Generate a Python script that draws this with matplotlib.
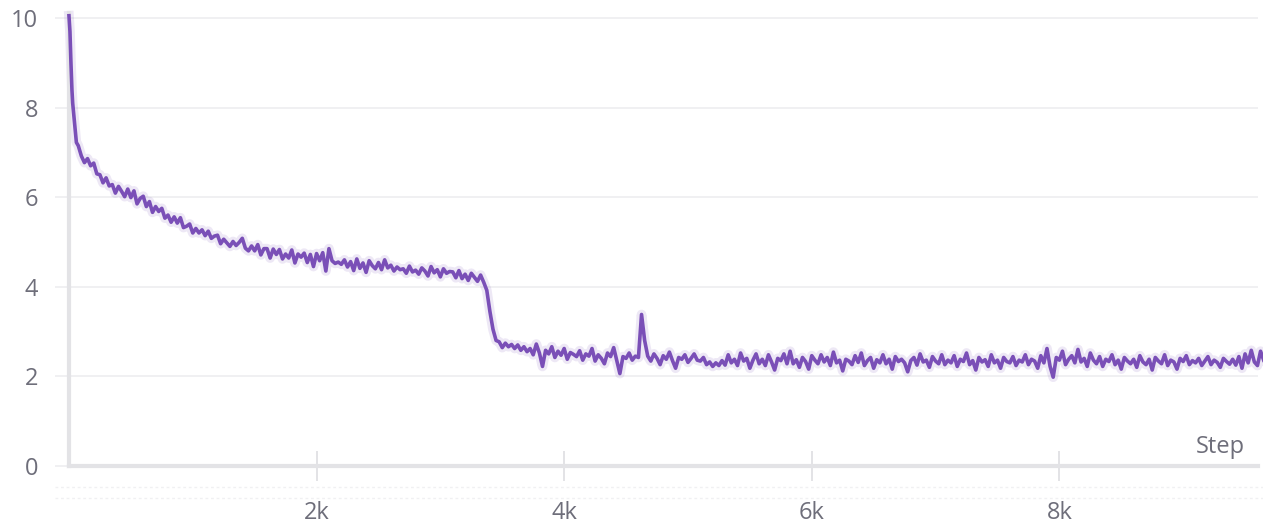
import matplotlib
matplotlib.use("Agg")
import matplotlib.pyplot as plt

# training loss (W&B style panel)
early_steps = [0, 8, 16, 24, 30, 45, 60, 75]
early_loss = [10.05, 9.70, 9.00, 8.40, 8.10, 7.65, 7.22, 7.15]

main_steps = list(range(100, 9651, 25))
main_loss = [
    # 100 - 575
    6.92, 6.77, 6.86, 6.70, 6.76, 6.52, 6.50, 6.32, 6.43, 6.25,
    6.28, 6.09, 6.24, 6.13, 6.01, 6.18, 5.99, 6.14, 5.85, 5.97,
    # 600 - 1075
    6.02, 5.79, 5.90, 5.66, 5.79, 5.68, 5.75, 5.53, 5.60, 5.44,
    5.56, 5.42, 5.54, 5.32, 5.35, 5.40, 5.20, 5.30, 5.20, 5.27,
    # 1100 - 1575
    5.14, 5.24, 5.08, 5.13, 5.15, 4.96, 5.06, 4.98, 4.90, 5.01,
    4.92, 4.99, 5.08, 4.86, 4.80, 4.91, 4.80, 4.94, 4.71, 4.85,
    # 1600 - 2075
    4.85, 4.64, 4.84, 4.72, 4.83, 4.62, 4.73, 4.64, 4.82, 4.53,
    4.73, 4.66, 4.75, 4.54, 4.72, 4.45, 4.74, 4.58, 4.76, 4.35,
    # 2100 - 2575
    4.85, 4.58, 4.52, 4.55, 4.50, 4.60, 4.44, 4.56, 4.36, 4.62,
    4.41, 4.53, 4.32, 4.58, 4.47, 4.40, 4.54, 4.38, 4.60, 4.42,
    # 2600 - 3075
    4.48, 4.35, 4.44, 4.38, 4.40, 4.30, 4.46, 4.33, 4.37, 4.28,
    4.42, 4.35, 4.24, 4.45, 4.31, 4.38, 4.22, 4.40, 4.30, 4.34,
    # 3100 - 3575 (the drop)
    4.33, 4.20, 4.36, 4.18, 4.28, 4.14, 4.30, 4.21, 4.12, 4.26,
    4.10, 3.92, 3.45, 3.05, 2.80, 2.77, 2.64, 2.74, 2.66, 2.71,
    # 3600 - 4075
    2.62, 2.70, 2.58, 2.66, 2.55, 2.62, 2.48, 2.72, 2.52, 2.22,
    2.58, 2.50, 2.66, 2.42, 2.56, 2.47, 2.62, 2.38, 2.53, 2.49,
    # 4100 - 4575
    2.44, 2.57, 2.36, 2.50, 2.45, 2.62, 2.34, 2.48, 2.40, 2.28,
    2.52, 2.44, 2.64, 2.35, 2.06, 2.44, 2.40, 2.52, 2.36, 2.45,
    # 4600 - 5075 (spike)
    2.42, 3.38, 2.80, 2.45, 2.34, 2.50, 2.40, 2.26, 2.46, 2.38,
    2.54, 2.35, 2.18, 2.42, 2.38, 2.48, 2.31, 2.40, 2.50, 2.36,
    # 5100 - 5575
    2.34, 2.42, 2.26, 2.32, 2.22, 2.30, 2.24, 2.35, 2.25, 2.48,
    2.30, 2.38, 2.24, 2.52, 2.34, 2.40, 2.18, 2.36, 2.50, 2.28,
    # 5600 - 6075
    2.38, 2.24, 2.48, 2.32, 2.14, 2.40, 2.35, 2.50, 2.28, 2.56,
    2.28, 2.37, 2.20, 2.42, 2.33, 2.16, 2.46, 2.36, 2.28, 2.48,
    # 6100 - 6575
    2.32, 2.42, 2.24, 2.54, 2.30, 2.36, 2.12, 2.38, 2.34, 2.26,
    2.46, 2.31, 2.52, 2.24, 2.35, 2.42, 2.18, 2.37, 2.30, 2.48,
    # 6600 - 7075
    2.28, 2.38, 2.16, 2.44, 2.33, 2.38, 2.30, 2.10, 2.35, 2.42,
    2.25, 2.50, 2.32, 2.36, 2.20, 2.44, 2.34, 2.28, 2.48, 2.26,
    # 7100 - 7575
    2.36, 2.30, 2.46, 2.22, 2.38, 2.33, 2.52, 2.26, 2.35, 2.14,
    2.42, 2.32, 2.37, 2.22, 2.48, 2.30, 2.36, 2.18, 2.42, 2.33,
    # 7600 - 8075
    2.30, 2.44, 2.24, 2.36, 2.32, 2.48, 2.26, 2.38, 2.34, 2.18,
    2.46, 2.30, 2.62, 2.22, 1.98, 2.42, 2.36, 2.56, 2.26, 2.38,
    # 8100 - 8575
    2.46, 2.30, 2.60, 2.32, 2.40, 2.22, 2.52, 2.36, 2.28, 2.44,
    2.22, 2.38, 2.33, 2.48, 2.26, 2.36, 2.16, 2.42, 2.34, 2.28,
    # 8600 - 9075
    2.38, 2.20, 2.46, 2.32, 2.26, 2.38, 2.14, 2.42, 2.34, 2.28,
    2.48, 2.24, 2.36, 2.32, 2.16, 2.40, 2.33, 2.46, 2.26, 2.35,
    # 9100 - 9575
    2.30, 2.40, 2.24, 2.34, 2.44, 2.26, 2.36, 2.31, 2.20, 2.40,
    2.33, 2.27, 2.38, 2.25, 2.44, 2.18, 2.50, 2.30, 2.58, 2.32,
    # 9600 - 9650
    2.24, 2.56, 2.36,
]

steps = early_steps + main_steps
loss = early_loss + main_loss

x_ticks = [2000, 4000, 6000, 8000]
x_labels = ["2k", "4k", "6k", "8k"]
y_ticks = [0, 2, 4, 6, 8, 10]

plt.rcParams["font.family"] = ["Open Sans", "DejaVu Sans"]

line_col = "#7a4fb7"
axis_col = "#e3e3e6"
grid_col = "#ededf0"
text_col = "#6e6e7a"

fig = plt.figure(figsize=(12.63, 5.27), dpi=100)
ax = fig.add_axes([0.0546, 0.116, 0.9414, 0.8584])

# faint band + main line
ax.plot(steps, loss, color=line_col, lw=7, alpha=0.13, solid_joinstyle="round", clip_on=False)
ax.plot(steps, loss, color=line_col, lw=2.6, solid_joinstyle="round", clip_on=False, zorder=3)

ax.set_xlim(0, 9604)
ax.set_ylim(0, 10.1)

ax.set_yticks(y_ticks)
ax.set_xticks(x_ticks)
ax.set_xticklabels(x_labels)

ax.yaxis.grid(True, color=grid_col, lw=1.2)
ax.xaxis.grid(False)
ax.set_axisbelow(True)

for s in ["top", "right"]:
    ax.spines[s].set_visible(False)
for s in ["left", "bottom"]:
    ax.spines[s].set_color(axis_col)
    ax.spines[s].set_linewidth(3)

ax.tick_params(axis="y", direction="out", length=10, width=1.2, color=grid_col,
               labelsize=17, labelcolor=text_col, pad=12)
ax.tick_params(axis="x", direction="inout", length=21, width=1.4, color=axis_col,
               labelsize=17, labelcolor=text_col, pad=15)

fig.text(1245 / 1263, 1 - 447 / 527, "Step", ha="right", va="center",
         fontsize=17, color=text_col)

# faint dotted strips under the axis
for py in (487, 498):
    fig.add_artist(plt.Line2D([55 / 1263, 1], [1 - py / 527] * 2, color="#f0f0f2",
                              lw=1, ls=(0, (2, 2))))

fig.savefig("out.png", dpi=100, facecolor="white")
